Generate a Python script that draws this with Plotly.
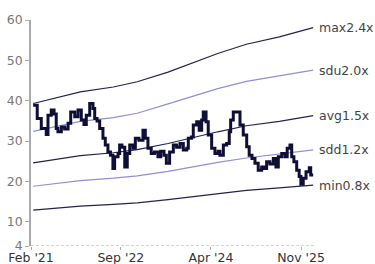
import plotly.graph_objects as go

# ---- data ----
band_dates = ["2021-02-15", "2021-12-15", "2022-07-15", "2022-12-15", "2023-07-01",
              "2023-12-15", "2024-05-15", "2024-11-15", "2025-06-15", "2026-01-18"]
band_max = [39.3, 42.2, 43.4, 44.7, 47.1, 49.6, 51.7, 54.0, 55.8, 58.1]
band_sdu = [32.4, 34.9, 35.8, 36.9, 39.2, 41.1, 43.0, 44.8, 46.2, 47.6]
band_avg = [24.6, 26.4, 27.1, 27.9, 29.4, 31.0, 32.3, 33.8, 34.9, 36.3]
band_sdd = [18.8, 20.2, 20.8, 21.4, 22.5, 23.7, 24.7, 25.8, 26.7, 27.8]
band_min = [12.9, 13.9, 14.3, 14.7, 15.5, 16.3, 17.0, 17.8, 18.4, 19.1]
band_labels = ["max2.4x", "sdu2.0x", "avg1.5x", "sdd1.2x", "min0.8x"]

price_dates = [
    "2021-02-15", "2021-03-13", "2021-04-08", "2021-05-10", "2021-05-21", "2021-06-11",
    "2021-06-29", "2021-07-13", "2021-07-24", "2021-08-15", "2021-09-05", "2021-09-27",
    "2021-10-14", "2021-11-09", "2021-11-30", "2021-12-21", "2022-01-07", "2022-01-22",
    "2022-02-13", "2022-03-06", "2022-03-17", "2022-04-01", "2022-04-18", "2022-05-09",
    "2022-05-24", "2022-06-10", "2022-06-26", "2022-07-12", "2022-07-23", "2022-08-14",
    "2022-08-24", "2022-09-08", "2022-09-26", "2022-10-12", "2022-10-28", "2022-11-18",
    "2022-12-03", "2022-12-26", "2023-01-21", "2023-02-05", "2023-02-22", "2023-03-15",
    "2023-04-05", "2023-04-27", "2023-05-15", "2023-06-05", "2023-06-20", "2023-07-11",
    "2023-08-04", "2023-08-25", "2023-09-16", "2023-10-07", "2023-10-29", "2023-11-08",
    "2023-11-28", "2023-12-10", "2024-01-01", "2024-01-17", "2024-02-02", "2024-02-12",
    "2024-03-01", "2024-03-15", "2024-04-06", "2024-04-27", "2024-05-18", "2024-05-29",
    "2024-06-20", "2024-07-11", "2024-07-28", "2024-08-06", "2024-08-23", "2024-09-24",
    "2024-10-05", "2024-10-26", "2024-11-17", "2024-12-03", "2024-12-21", "2025-01-09",
    "2025-01-30", "2025-02-21", "2025-03-11", "2025-03-25", "2025-04-15", "2025-05-07",
    "2025-05-24", "2025-06-08", "2025-06-30", "2025-07-21", "2025-08-04", "2025-08-22",
    "2025-09-02", "2025-09-16", "2025-10-04", "2025-10-20", "2025-10-31", "2025-11-15",
    "2025-12-03", "2025-12-24", "2026-01-02", "2026-01-18",
]
price_values = [
    38.9, 35.6, 33.1, 31.6, 36.4, 37.7,
    36.7, 33.1, 32.3, 33.5, 33.0, 34.4,
    37.2, 36.0, 37.7, 35.2, 34.1, 36.4,
    39.3, 38.1, 35.6, 35.0, 33.1, 30.7,
    29.0, 27.3, 26.5, 23.2, 26.1, 26.9,
    29.0, 28.5, 23.6, 26.9, 29.0, 28.2,
    30.7, 30.2, 32.7, 30.7, 28.2, 26.9,
    27.3, 26.1, 27.5, 26.5, 24.5, 27.3,
    29.0, 28.5, 29.4, 27.8, 28.2, 30.7,
    31.0, 34.0, 34.8, 32.7, 35.2, 37.2,
    34.8, 31.5, 28.2, 26.9, 27.5, 26.5,
    29.0, 29.4, 32.3, 35.2, 37.2, 37.2,
    34.0, 31.5, 28.6, 26.5, 25.7, 24.5,
    22.8, 23.6, 23.2, 24.9, 24.3, 25.7,
    23.6, 26.1, 26.9, 26.1, 28.2, 29.0,
    26.1, 24.9, 22.8, 21.2, 19.3, 20.8,
    22.4, 23.4, 21.6, 21.6,
]

x_tick_vals = ["2021-02-01", "2022-09-01", "2024-04-01", "2025-11-01"]
x_tick_text = ["Feb '21", "Sep '22", "Apr '24", "Nov '25"]
y_tick_vals = [4, 10, 20, 30, 40, 50, 60]

# ---- figure ----
DARK = "#23234f"
LAV = "#8f8fd6"
band_series = [band_max, band_sdu, band_avg, band_sdd, band_min]
band_colors = [DARK, LAV, DARK, LAV, DARK]

fig = go.Figure()
for vals, col in zip(band_series, band_colors):
    fig.add_trace(go.Scatter(x=band_dates, y=vals, mode="lines",
                             line=dict(color=col, width=1.2), hoverinfo="skip"))

fig.add_trace(go.Scatter(x=price_dates, y=price_values, mode="lines",
                         line=dict(color="#0e0e36", width=3, shape="hv")))

for vals, lab in zip(band_series, band_labels):
    fig.add_annotation(x=band_dates[-1], y=vals[-1], text=lab, showarrow=False,
                       xanchor="left", yanchor="middle", xshift=4,
                       font=dict(family="DejaVu Sans", size=12.5, color="#444"))

# dashed x-axis baseline
fig.add_shape(type="line", xref="paper", yref="y", x0=0, x1=1, y0=4, y1=4,
              line=dict(color="#aaaaaa", width=1, dash="3px,2px"))

fig.update_layout(
    width=375, height=264,
    margin=dict(l=31, r=59, t=20, b=18),
    paper_bgcolor="white", plot_bgcolor="white",
    showlegend=False,
    font=dict(family="DejaVu Sans"),
)
fig.update_xaxes(
    type="date", range=["2021-02-01", "2026-02-05"],
    tickvals=x_tick_vals, ticktext=x_tick_text,
    ticks="outside", ticklen=3, tickcolor="#aaaaaa",
    showgrid=False, zeroline=False, showline=False,
    tickfont=dict(family="DejaVu Sans", size=12.5, color="#333"),
    ticklabelstandoff=-3,
    automargin=False,
)
fig.update_yaxes(
    range=[4, 60], tickvals=y_tick_vals,
    ticks="outside", ticklen=4, tickcolor="#aaaaaa",
    showgrid=False, zeroline=False, showline=True, linecolor="#aaaaaa", linewidth=1.5,
    tickfont=dict(family="DejaVu Sans", size=12.5, color="#777"),
    automargin=False,
)

fig.write_html("out.html", config={"displayModeBar": False},
               post_script="document.body.style.margin='0';")
